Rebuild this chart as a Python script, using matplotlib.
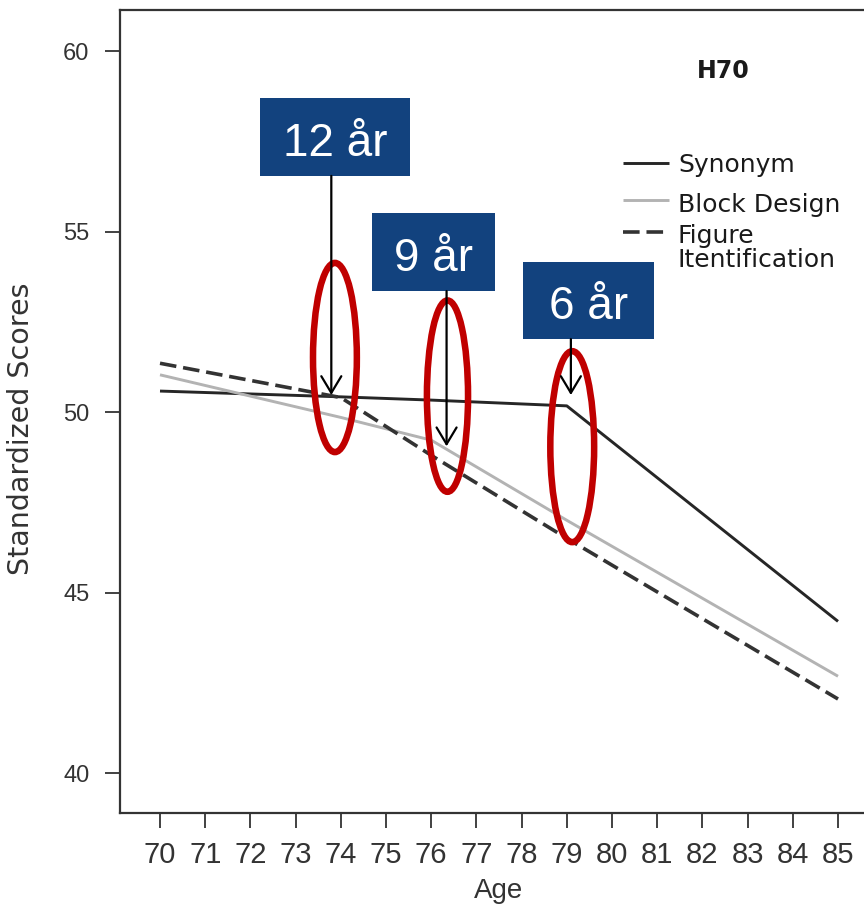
import matplotlib
matplotlib.use("Agg")
import matplotlib.pyplot as plt
from matplotlib.patches import Ellipse, Rectangle
from matplotlib.lines import Line2D

# Mean standardized scores by age (H70 cohort)
ages = [70, 74, 76, 79, 85]
synonym = [50.58, 50.42, 50.33, 50.17, 44.20]
block_design = [51.03, 49.85, 49.22, 47.00, 42.68]
figure_ident = [51.35, 50.40, 48.80, 46.50, 42.05]

series_labels = ["Synonym", "Block Design", "Figure\nItentification"]
x_ticks = list(range(70, 86))
y_ticks = [40, 45, 50, 55, 60]

# Call-outs: label, box extent (age / score), arrow x and tip, ellipse centre/size
callout_labels = ["12 år", "9 år", "6 år"]
box_x0 = [72.21, 74.69, 78.03]
box_x1 = [75.53, 77.41, 80.93]
box_y0 = [56.54, 53.35, 52.02]
box_y1 = [58.70, 55.51, 54.16]
arrow_x = [73.79, 76.34, 79.09]
arrow_tip = [50.47, 49.05, 50.47]
ell_x = [73.87, 76.36, 79.12]
ell_y = [51.51, 50.44, 49.04]
ell_w = [0.97, 0.91, 0.97]
ell_h = [5.24, 5.30, 5.29]

W, H = 864, 910
fig = plt.figure(figsize=(W / 100, H / 100), dpi=100)
ax = fig.add_axes([120 / W, 1 - 813 / H, 1 - 120 / W, (813 - 10) / H])

ax.set_xlim(69.115, 85.575)
ax.set_ylim(38.892, 61.136)

styles = [
    dict(color="#262626", lw=2.1, ls="-"),
    dict(color="#b3b3b3", lw=2.1, ls="-"),
    dict(color="#333333", lw=2.6, ls=(0, (4.6, 1.9))),
]
for vals, st in zip([synonym, block_design, figure_ident], styles):
    ax.plot(ages, vals, color=st["color"], lw=st["lw"], linestyle=st["ls"],
            solid_capstyle="butt", dash_capstyle="butt", zorder=3)

# axes styling
for side in ["left", "bottom", "top"]:
    ax.spines[side].set_color("#333333")
    ax.spines[side].set_linewidth(1.6)
ax.spines["right"].set_visible(False)

ax.set_xticks(x_ticks)
ax.set_yticks(y_ticks)
ax.tick_params(axis="x", length=11, width=1.3, color="#333333", pad=9,
               labelsize=21, labelcolor="#333333")
ax.tick_params(axis="y", length=11, width=1.3, color="#333333", pad=11,
               labelsize=17, labelcolor="#333333")
for lab in ax.get_xticklabels():
    lab.set_family(["Liberation Sans Narrow", "Liberation Sans", "DejaVu Sans"])
for lab in ax.get_yticklabels():
    lab.set_family(["Liberation Sans", "DejaVu Sans"])

ax.set_xlabel("Age", fontsize=20, color="#333333",
              family=["Liberation Sans", "DejaVu Sans"])
ax.xaxis.set_label_coords((499 - 120) / 744, (813 - 878) / 803)
ax.xaxis.label.set_va("top")
ax.set_ylabel("Standardized Scores", fontsize=20.5, color="#333333",
              family=["DejaVu Sans"])
ax.yaxis.set_label_coords((35 - 120) / 744, (813 - 429) / 803)

# title and legend
fig.text(723.5 / W, 1 - 78 / H, "H70", fontsize=17, fontweight="bold",
         color="#1a1a1a", ha="center", va="baseline", family=["DejaVu Sans"])

handle_y = [163, 200, 232]
text_base = [172, 212, 243]
for lab, st, hy, tb in zip(series_labels, styles, handle_y, text_base):
    fig.add_artist(Line2D([623 / W, 669 / W], [1 - hy / H] * 2,
                          color=st["color"], lw=st["lw"], linestyle=st["ls"],
                          solid_capstyle="butt", dash_capstyle="butt"))
    lines = lab.split("\n")
    for k, line in enumerate(lines):
        fig.text(678 / W, 1 - (tb + 24 * k) / H, line, fontsize=18,
                 color="#1a1a1a", ha="left", va="baseline",
                 family=["DejaVu Sans"])

# call-outs
for lab, x0, x1, y0, y1, ax_x, tip, ex, ey, ew, eh in zip(
        callout_labels, box_x0, box_x1, box_y0, box_y1, arrow_x, arrow_tip,
        ell_x, ell_y, ell_w, ell_h):
    ax.add_patch(Ellipse((ex, ey), ew, eh, fill=False, edgecolor="#c00000",
                         lw=4.7, zorder=5))
    ax.add_patch(Rectangle((x0, y0), x1 - x0, y1 - y0, facecolor="#12427e",
                           edgecolor="none", zorder=6))
    ax.text((x0 + x1) / 2, y0 + 0.26 * (y1 - y0), lab, fontsize=33,
            color="white", ha="center", va="baseline", zorder=7,
            family=["Liberation Sans", "DejaVu Sans"])
    ax.annotate("", xy=(ax_x, tip), xytext=(ax_x, y0),
                arrowprops=dict(arrowstyle="->,head_length=0.6,head_width=0.36",
                                lw=1.6, color="black", mutation_scale=20,
                                shrinkA=0, shrinkB=0),
                zorder=8)

fig.savefig("out.png", dpi=100)
